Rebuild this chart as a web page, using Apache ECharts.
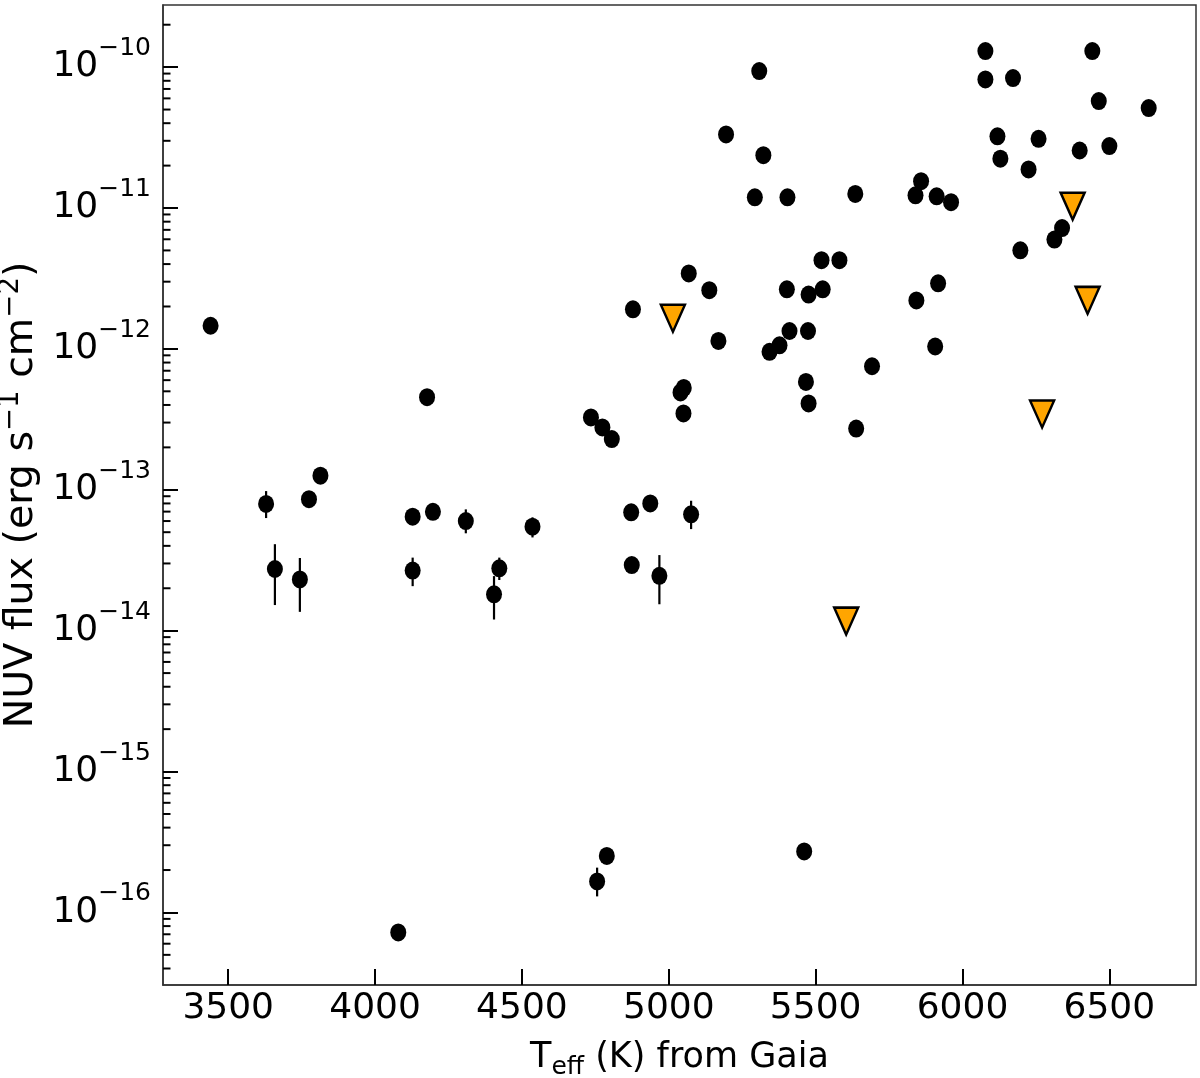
<!DOCTYPE html>
<html><head><meta charset="utf-8">
<script src="https://cdn.jsdelivr.net/npm/echarts@6/dist/echarts.min.js"></script>
<style>html,body{margin:0;padding:0;background:#fff}#c{width:1200px;height:1078px}</style>
</head><body><div id="c"></div>
<script>
// Detections (Teff in K, NUV flux in erg s^-1 cm^-2)
const detTeff = [3440,3629,3775,3814,3659,3744,4128,4197,4309,4536,4128,4423,4405,4872,4937,5076,4874,4968,4079,4756,4789,5461,4878,5068,5138,5169,5040,5051,5050,4735,4774,4806,5402,5476,5524,5411,5474,5377,5343,5692,5467,5476,5638,5520,5581,5308,5195,5322,5293,5404,5635,5859,5840,5912,5961,6078,6078,6172,6442,6464,6634,6119,6259,6129,6225,6399,6500,6339,6313,6197,4177,5843,5917,5907];
const detFlux = [1.46e-12,7.93e-14,8.57e-14,1.26e-13,2.74e-14,2.31e-14,6.44e-14,6.98e-14,6.0e-14,5.47e-14,2.67e-14,2.77e-14,1.81e-14,6.92e-14,8.0e-14,6.70e-14,2.92e-14,2.45e-14,7.21e-17,1.66e-16,2.52e-16,2.71e-16,1.91e-12,3.43e-12,2.61e-12,1.14e-12,4.91e-13,5.28e-13,3.48e-13,3.26e-13,2.77e-13,2.29e-13,2.65e-12,2.43e-12,2.65e-12,1.34e-12,1.34e-12,1.06e-12,9.53e-13,7.53e-13,5.83e-13,4.10e-13,2.72e-13,4.26e-12,4.26e-12,9.38e-11,3.33e-11,2.37e-11,1.19e-11,1.19e-11,1.26e-11,1.55e-11,1.23e-11,1.21e-11,1.10e-11,1.30e-10,8.18e-11,8.36e-11,1.30e-10,5.74e-11,5.12e-11,3.23e-11,3.10e-11,2.24e-11,1.88e-11,2.56e-11,2.75e-11,7.21e-12,5.97e-12,5.01e-12,4.54e-13,2.21e-12,2.92e-12,1.04e-12];
// Error bars
const errTeff = [3629,3659,3744,4309,4536,4128,4423,4405,5076,4968,4756];
const errLow  = [6.30e-14,1.52e-14,1.36e-14,4.91e-14,4.59e-14,2.07e-14,2.29e-14,1.20e-14,5.26e-14,1.54e-14,1.30e-16];
const errHigh = [9.79e-14,4.11e-14,3.28e-14,7.26e-14,6.37e-14,3.30e-14,3.30e-14,2.44e-14,8.36e-14,3.44e-14,2.08e-16];
// Upper limits
const ulTeff = [5014,5604,6271,6375,6426];
const ulFlux = [1.65e-12,1.17e-14,3.45e-13,1.03e-11,2.21e-12];
// Axis ranges / ticks
const xMin = 3278, xMax = 6795;
const xTickStep = 500;
const yMinExp = -16.515, yMaxExp = -9.559;
const yMajorExps = [-16,-15,-14,-13,-12,-11,-10];

const FONT = 'DejaVu Sans';
const yMin = Math.pow(10, yMinExp), yMax = Math.pow(10, yMaxExp);
const minorTicks = [];
for (let e = -17; e <= -10; e++) for (let k = 2; k <= 9; k++) {
  const v = k * Math.pow(10, e);
  if (v > yMin && v < yMax) minorTicks.push(v);
}

const chart = echarts.init(document.getElementById('c'), null, {renderer: 'canvas'});
const ellipse = 'path://M0,-1A1,1 0 1,1 0,1A1,1 0 1,1 0,-1Z';
chart.setOption({
  animation: false,
  backgroundColor: '#fff',
  grid: {left: 163, right: 4, top: 5, bottom: 93, show: true, borderColor: '#333', borderWidth: 1.5, outerBoundsMode: 'none', containLabel: false},
  xAxis: {
    type: 'value', min: xMin, max: xMax, splitNumber: 7,
    splitLine: {show: false},
    axisLine: {lineStyle: {color: '#333', width: 1.5}},
    axisTick: {inside: true, length: 16, lineStyle: {color: '#000', width: 2}},
    axisLabel: {
      showMinLabel: false, showMaxLabel: false, margin: 6,
      fontFamily: FONT, fontSize: 36, color: '#000',
      formatter: v => (Math.abs(v % xTickStep) < 1e-6 ? String(v) : '')
    },
    name: '{t|T}{s|eff}{t| (K) from Gaia}', nameLocation: 'middle', nameGap: 50,
    nameTextStyle: {
      fontFamily: FONT, color: '#000',
      rich: {
        t: {fontFamily: FONT, fontSize: 35, lineHeight: 45, color: '#000', verticalAlign: 'middle'},
        s: {fontFamily: FONT, fontSize: 25, lineHeight: 25, color: '#000', verticalAlign: 'bottom'}
      }
    }
  },
  yAxis: {
    type: 'log', logBase: 10, min: yMin, max: yMax,
    splitLine: {show: false},
    axisLine: {lineStyle: {color: '#333', width: 1.5}},
    axisTick: {inside: true, length: 15, lineStyle: {color: '#000', width: 2}},
    axisLabel: {
      showMinLabel: false, showMaxLabel: false, margin: 12,
      fontFamily: FONT, color: '#000',
      formatter: v => {
        const e = Math.log10(v);
        const r = Math.round(e);
        if (Math.abs(e - r) > 1e-6 || yMajorExps.indexOf(r) < 0) return '';
        return '{b|10}{s|\u2212' + (-r) + '}';
      },
      rich: {
        b: {fontFamily: FONT, fontSize: 36, lineHeight: 62, color: '#000', verticalAlign: 'middle'},
        s: {fontFamily: FONT, fontSize: 25, lineHeight: 25, color: '#000', verticalAlign: 'top'}
      }
    },
    name: '{n|NUV flux (erg s}{p|\u22121}{n| cm}{p|\u22122}{n|)}', nameLocation: 'middle', nameGap: 116,
    nameTextStyle: {
      fontFamily: FONT, color: '#000',
      rich: {
        n: {fontFamily: FONT, fontSize: 39.5, lineHeight: 50, color: '#000', verticalAlign: 'middle'},
        p: {fontFamily: FONT, fontSize: 27.5, lineHeight: 27.5, color: '#000', verticalAlign: 'top'}
      }
    }
  },
  series: [
    {
      type: 'custom', name: 'minorTicks', silent: true, z: 5,
      data: minorTicks.map(v => [xMin, v]),
      renderItem: (params, api) => {
        const p = api.coord([api.value(0), api.value(1)]);
        const x0 = params.coordSys.x;
        return {type: 'line', shape: {x1: x0, y1: p[1], x2: x0 + 7.5, y2: p[1]}, style: {stroke: '#000', lineWidth: 2}};
      }
    },
    {
      type: 'custom', name: 'errors', silent: true, z: 3,
      data: errTeff.map((t, i) => [t, errLow[i], errHigh[i]]),
      renderItem: (params, api) => {
        const a = api.coord([api.value(0), api.value(1)]);
        const b = api.coord([api.value(0), api.value(2)]);
        return {type: 'line', shape: {x1: a[0], y1: a[1], x2: b[0], y2: b[1]}, style: {stroke: '#000', lineWidth: 2.2}};
      }
    },
    {
      type: 'scatter', name: 'detections', z: 4,
      symbol: ellipse, symbolSize: [16, 18],
      itemStyle: {color: '#000', opacity: 1},
      data: detTeff.map((t, i) => [t, detFlux[i]])
    },
    {
      type: 'scatter', name: 'upper limits', z: 4,
      symbol: 'triangle', symbolRotate: 180, symbolSize: [24, 27],
      itemStyle: {color: '#FFA500', borderColor: '#000', borderWidth: 2.5, opacity: 1},
      data: ulTeff.map((t, i) => [t, ulFlux[i]])
    }
  ]
});
</script>
</body></html>
